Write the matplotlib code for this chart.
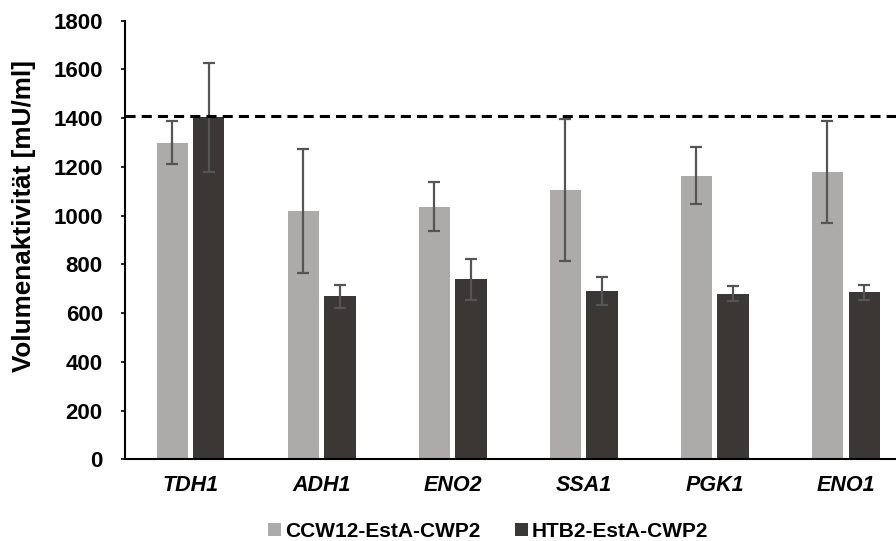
import numpy as np
import matplotlib
matplotlib.use("Agg")
import matplotlib.pyplot as plt

plt.rcParams["font.family"] = ["Liberation Sans", "DejaVu Sans"]
plt.rcParams["font.weight"] = "bold"

# Promotoren und gemessene Volumenaktivität
promotors = ["TDH1", "ADH1", "ENO2", "SSA1", "PGK1", "ENO1"]
ccw12 = [1300, 1018, 1037, 1105, 1164, 1179]
ccw12_err = [90, 255, 102, 292, 118, 210]
htb2 = [1403, 670, 739, 690, 680, 685]
htb2_err = [225, 47, 85, 58, 30, 30]
reference_level = 1408

C_LIGHT = "#ADABAA"
C_DARK = "#3A3735"
C_ERR = "#555555"

fig = plt.figure(figsize=(8.96, 5.41), dpi=100)
ax = fig.add_axes([0.1395, 0.151, 0.8605, 0.8107])

x = np.arange(len(promotors))
w = 0.237
off = 0.141

ax.bar(x - off, ccw12, width=w, color=C_LIGHT, label="CCW12-EstA-CWP2", zorder=2)
ax.bar(x + off, htb2, width=w, color=C_DARK, label="HTB2-EstA-CWP2", zorder=2)
ax.errorbar(x - off, ccw12, yerr=ccw12_err, fmt="none", ecolor=C_ERR,
            elinewidth=1.6, capsize=4.2, capthick=1.6, zorder=3)
ax.errorbar(x + off, htb2, yerr=htb2_err, fmt="none", ecolor=C_ERR,
            elinewidth=1.6, capsize=4.2, capthick=1.6, zorder=3)

# gestrichelte Referenzlinie
ax.axhline(reference_level, color="black", linestyle=(0, (3.3, 2.0)), linewidth=2.2, zorder=4)

ax.set_xlim(-0.5, 5.385)
ax.set_ylim(0, 1800)
ax.set_yticks(np.arange(0, 1801, 200))
ax.set_xticks(x)
ax.set_xticklabels(promotors, fontsize=15.5, fontweight="bold", style="italic")
ax.tick_params(axis="x", length=0, pad=11)
ax.tick_params(axis="y", labelsize=16, length=3, width=1.2, direction="out", pad=13)
for lab in ax.get_yticklabels():
    lab.set_fontweight("bold")

ax.set_ylabel("Volumenaktivität [mU/ml]", fontsize=18.8, fontweight="bold")
ax.yaxis.set_label_coords(-0.116, 0.555)

for s in ["top", "right"]:
    ax.spines[s].set_visible(False)
ax.spines["left"].set_linewidth(1.5)
ax.spines["bottom"].set_linewidth(1.5)

fig.legend(loc="center", bbox_to_anchor=(0.545, 0.018), ncol=2, frameon=False,
           handlelength=0.58, handleheight=0.58, handletextpad=0.2,
           columnspacing=1.7, prop={"weight": "bold", "size": 15})

fig.savefig("out.png", dpi=100)
